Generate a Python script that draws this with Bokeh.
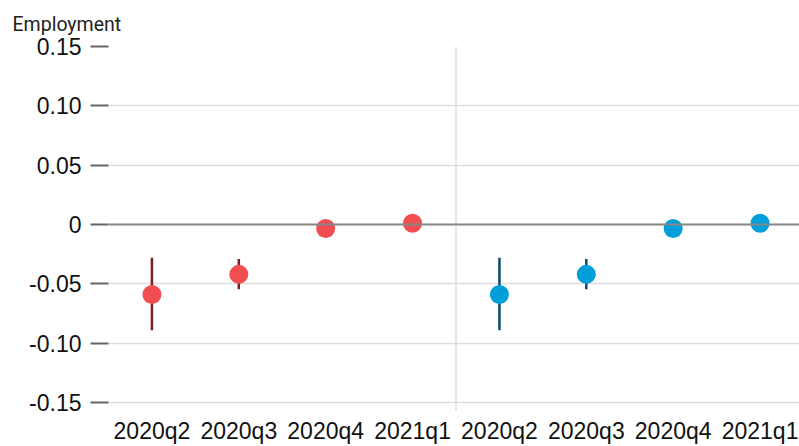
from bokeh.plotting import figure
from bokeh.models import FixedTicker, Span, ColumnDataSource, Range1d
from bokeh.embed import file_html
from bokeh.resources import INLINE

# ---- data ----
quarters = ["2020q2", "2020q3", "2020q4", "2021q1"]
red_est = [-0.059, -0.042, -0.0034, 0.0011]
red_lo = [-0.089, -0.0545, -0.006, -0.002]
red_hi = [-0.028, -0.029, -0.001, 0.004]
blue_est = [-0.059, -0.042, -0.0034, 0.0011]
blue_lo = [-0.089, -0.0546, -0.006, -0.002]
blue_hi = [-0.028, -0.029, -0.001, 0.004]
y_ticks = [-0.15, -0.10, -0.05, 0.0, 0.05, 0.10, 0.15]
y_tick_labels = ["-0.15", "-0.10", "-0.05", "0", "0.05", "0.10", "0.15"]
title_text = "Employment"

RED = "#F04E50"
RED_DARK = "#7A1F22"
BLUE = "#009FDA"
BLUE_DARK = "#0B4C6C"

n = len(quarters)
red_x = [i + 0.5 for i in range(n)]
blue_x = [n + i + 0.5 for i in range(n)]

p = figure(width=799, height=446, output_backend="svg", toolbar_location=None,
           x_range=Range1d(0, 7.954), y_range=Range1d(-0.1567, 0.15),
           min_border_left=108, min_border_right=0, min_border_top=45,
           min_border_bottom=36)
p.outline_line_color = None
p.background_fill_color = "white"

# title
p.title.text = title_text
p.title.align = "left"
p.title.offset = -96
p.title.standoff = 21
p.title.text_font = "Roboto"
p.title.text_font_style = "normal"
p.title.text_font_size = "19.5px"
p.title.text_color = "#222222"

# y axis
p.yaxis.ticker = FixedTicker(ticks=y_ticks)
p.yaxis.major_label_overrides = {t: l for t, l in zip(y_ticks, y_tick_labels)}
p.yaxis.axis_line_color = None
p.yaxis.major_tick_out = 18
p.yaxis.major_tick_in = 0
p.yaxis.major_tick_line_color = "#666666"
p.yaxis.major_tick_line_width = 2
p.yaxis.minor_tick_line_color = None
p.yaxis.minor_tick_out = 0
p.yaxis.major_label_standoff = 9
p.yaxis.major_label_text_font = "Liberation Sans"
p.yaxis.major_label_text_font_size = "23px"
p.yaxis.major_label_text_color = "#111111"

# x axis
x_ticks = red_x + blue_x
x_labels = quarters + quarters
p.xaxis.ticker = FixedTicker(ticks=x_ticks)
p.xaxis.major_label_overrides = {t: l for t, l in zip(x_ticks, x_labels)}
p.xaxis.axis_line_color = None
p.xaxis.major_tick_line_color = None
p.xaxis.major_tick_out = 0
p.xaxis.major_tick_in = 0
p.xaxis.minor_tick_line_color = None
p.xaxis.minor_tick_out = 0
p.xaxis.major_label_standoff = 7
p.xaxis.major_label_text_font = "Liberation Sans"
p.xaxis.major_label_text_font_size = "23px"
p.xaxis.major_label_text_color = "#111111"

# grid
p.xgrid.grid_line_color = None
p.ygrid.grid_line_color = "#DDDDDD"
p.ygrid.grid_line_width = 1.5

p.add_layout(Span(location=n, dimension="height", line_color="#DDDDDD", line_width=1.5))
p.add_layout(Span(location=0, dimension="width", line_color="#888888", line_width=2))

red_src = ColumnDataSource(dict(x=red_x, est=red_est, lo=red_lo, hi=red_hi))
blue_src = ColumnDataSource(dict(x=blue_x, est=blue_est, lo=blue_lo, hi=blue_hi))

p.segment(x0="x", y0="lo", x1="x", y1="hi", source=red_src, line_color=RED_DARK, line_width=2.5)
p.scatter(x="x", y="est", source=red_src, size=19, fill_color=RED, line_color=None)
p.segment(x0="x", y0="lo", x1="x", y1="hi", source=blue_src, line_color=BLUE_DARK, line_width=2.5)
p.scatter(x="x", y="est", source=blue_src, size=19, fill_color=BLUE, line_color=None)

open("out.html", "w").write(file_html(p, INLINE))
